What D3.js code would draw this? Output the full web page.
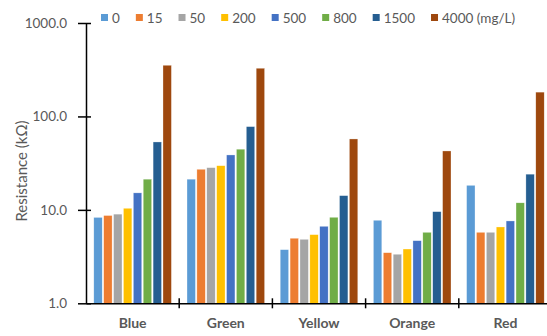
<!DOCTYPE html>
<html>
<head>
<meta charset="utf-8">
<script src="https://cdn.jsdelivr.net/npm/d3@7/dist/d3.min.js"></script>
<style>
  html, body { margin: 0; padding: 0; background: #fff; }
  svg text { font-family: Lato, "Open Sans", sans-serif; fill: #595959; }
</style>
</head>
<body>
<svg id="chart" width="547" height="336"></svg>
<script>
// Sample colours and the dye concentrations tested
const categories = ["Blue", "Green", "Yellow", "Orange", "Red"];
const concentrations = ["0", "15", "50", "200", "500", "800", "1500", "4000"];
const legendLabels = ["0", "15", "50", "200", "500", "800", "1500", "4000 (mg/L)"];
const colors = ["#5B9BD5", "#ED7D31", "#A5A5A5", "#FFC000", "#4472C4", "#70AD47", "#255E91", "#9E480E"];

// Resistance (kΩ) per concentration, one array per sample colour
const blue   = [8.3, 8.7, 9.0, 10.4, 15.2, 21.3, 53.3, 353];
const green  = [21.3, 27.2, 28.3, 29.7, 38.7, 44.6, 77.8, 328];
const yellow = [3.75, 4.97, 4.84, 5.43, 6.67, 8.33, 14.2, 57.4];
const orange = [7.74, 3.48, 3.35, 3.81, 4.68, 5.75, 9.57, 42.7];
const red    = [18.3, 5.75, 5.75, 6.56, 7.61, 11.9, 24.1, 182];
const yTicks = [1, 10, 100, 1000];

const seriesByCategory = [blue, green, yellow, orange, red];

const svg = d3.select("#chart");
const margin = { left: 86, top: 23, bottom: 303.3 };
const plotRight = 552;

const x0 = d3.scaleBand().domain(categories).range([margin.left, plotRight]).paddingInner(0).paddingOuter(0);
const x1 = d3.scaleBand().domain(concentrations).range([0, x0.bandwidth()]).paddingInner(0.15).paddingOuter(0.79);
const y = d3.scaleLog().domain([1, 1000]).range([margin.bottom, margin.top]);

// Bars
const groups = svg.append("g").selectAll("g")
  .data(categories)
  .join("g")
  .attr("transform", d => `translate(${x0(d)},0)`);

groups.selectAll("rect")
  .data((d, i) => seriesByCategory[i].map((v, j) => ({ key: concentrations[j], value: v, color: colors[j] })))
  .join("rect")
  .attr("x", d => x1(d.key))
  .attr("width", x1.bandwidth())
  .attr("y", d => y(d.value))
  .attr("height", d => y(1) - y(d.value))
  .attr("fill", d => d.color)
  .attr("stroke", "#fff")
  .attr("stroke-opacity", 0.6)
  .attr("stroke-width", 0.5);

// Y axis (log scale, ticks crossing the axis line)
const yAxis = svg.append("g")
  .attr("transform", `translate(${margin.left},0)`)
  .call(d3.axisLeft(y).tickValues(yTicks).tickFormat(d3.format(".1f")).tickSize(5).tickSizeOuter(0));
yAxis.select(".domain").attr("stroke", "#000").attr("stroke-width", 1.5);
yAxis.selectAll(".tick line").attr("stroke", "#000").attr("stroke-width", 1.5).attr("x1", 5).attr("x2", -8);
yAxis.selectAll(".tick text")
  .attr("x", -19)
  .style("font-size", "13.5px")
  .style("fill", "#595959");

// X axis with category separators
const xAxis = svg.append("g")
  .attr("transform", `translate(0,${margin.bottom})`)
  .call(d3.axisBottom(x0).tickSize(0).tickSizeOuter(0));
xAxis.select(".domain").attr("stroke", "#000").attr("stroke-width", 1.5);
xAxis.selectAll(".tick text")
  .attr("dy", 0)
  .attr("y", 25)
  .style("font-size", "14px")
  .style("font-weight", "bold")
  .style("fill", "#595959");

const separators = categories.slice(1).map(c => x0(c));
xAxis.selectAll(".sep")
  .data(separators)
  .join("line")
  .attr("class", "sep")
  .attr("x1", d => d).attr("x2", d => d)
  .attr("y1", -5).attr("y2", 5)
  .attr("stroke", "#000").attr("stroke-width", 1.5);

// Y axis title
svg.append("text")
  .attr("transform", `translate(27,171) rotate(-90)`)
  .attr("text-anchor", "middle")
  .style("font-size", "15px")
  .text("Resistance (kΩ)");

// Legend
const legend = svg.append("g").attr("transform", "translate(101,0)");
let lx = 0;
legendLabels.forEach((label, i) => {
  const item = legend.append("g").attr("transform", `translate(${lx},0)`);
  item.append("rect").attr("x", 0).attr("y", 14).attr("width", 7).attr("height", 7).attr("fill", colors[i]);
  const t = item.append("text").attr("x", 11).attr("y", 23).style("font-size", "13.5px").text(label);
  lx += 11 + t.node().getComputedTextLength() + 16;
});
</script>
</body>
</html>
